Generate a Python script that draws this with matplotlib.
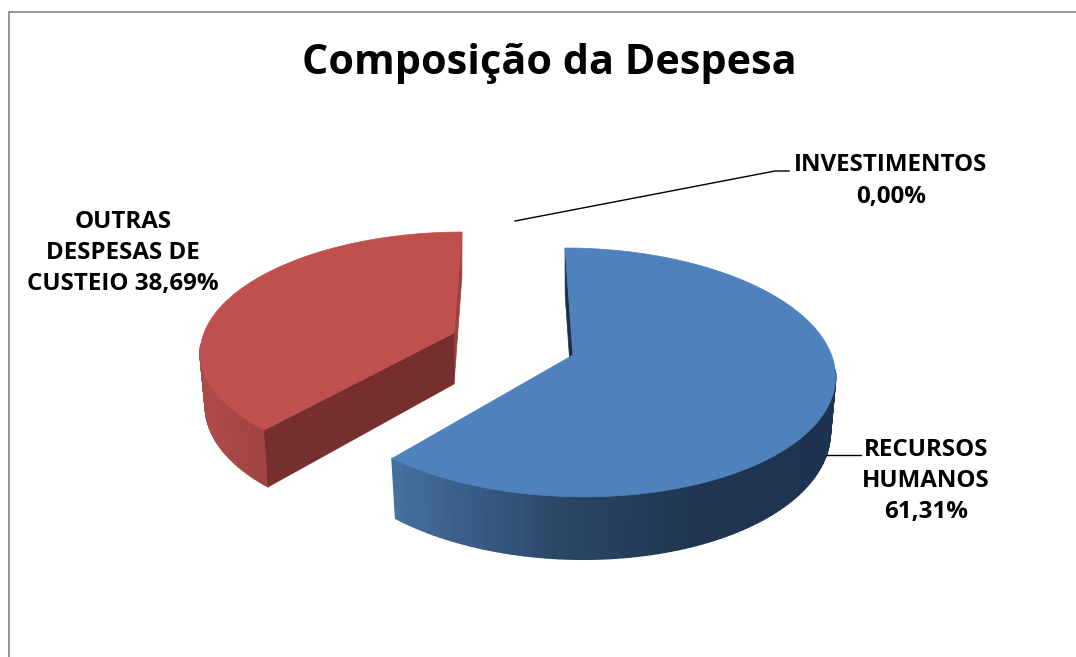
import numpy as np
import matplotlib
matplotlib.use("Agg")
import matplotlib.pyplot as plt
from matplotlib.collections import PolyCollection
from matplotlib.colors import to_rgb


TITLE = "Composição da Despesa"
CATEGORIES = ["RECURSOS\nHUMANOS\n61,31%", "OUTRAS\nDESPESAS DE\nCUSTEIO 38,69%", "INVESTIMENTOS\n0,00%"]
VALUES = [61.31, 38.69, 0.00]

FONT = "Open Sans"

# apex x, apex y, a, b, perspective k, skew, depth
BLUE_VIEW = (573, 355, 258.5, 122, 0.14, -9.1, 53.6)
RED_VIEW = (454, 333, 250, 114.7, 0.136, 9.1, 51)

BLUE_SIDE = ["#44709f", "#2b4767", "#1f3550", "#1e3350"]
BLUE_SIDE_X = [393, 560, 700, 835]
RED_SIDE = ["#ad4b49", "#a04341"]
RED_SIDE_X = [205, 268]


def project(theta, view, radius=1.0, lower=False):
    cx, cy, a, b, k, skew, depth = view
    px = radius * np.sin(np.radians(theta))
    py = radius * np.cos(np.radians(theta))
    w = 1 + k * py
    x = cx + (a * px + skew * py) / w
    y = cy - b * py / w
    if lower:
        x = cx + (x - cx) * 0.98
        y = y + depth / w
    return x, y


def ramp(x, stops_x, stops_c):
    rgb = np.array([to_rgb(c) for c in stops_c])
    return tuple(np.interp(x, stops_x, rgb[:, i]) for i in range(3))


def draw_slice(ax, start, stop, view, top_color, stops_x, stops_c, zorder):
    thetas = np.linspace(start, stop, 160)

    # outer wall, split in strips so the shading can run along x
    # the far part of the wall is hidden by the top face, so skip it
    polys, colors = [], []
    for t0, t1 in zip(thetas[:-1], thetas[1:]):
        if np.cos(np.radians(t0)) > -view[4] + 0.03:
            continue
        a = project(t0, view)
        b = project(t1, view)
        c = project(t1, view, lower=True)
        d = project(t0, view, lower=True)
        polys.append([a, b, c, d])
        colors.append(ramp((a[0] + b[0]) / 2, stops_x, stops_c))
    ax.add_collection(PolyCollection(polys, facecolors=colors, edgecolors=colors,
                                     linewidths=1.2, zorder=zorder))

    # top face
    xs, ys = project(thetas, view)
    apex = project(0, view, radius=0.0)
    ax.fill(np.r_[apex[0], xs], np.r_[apex[1], ys], color=top_color, lw=0.5, zorder=zorder + 1)


def radial_face(ax, theta, view, color, zorder):
    pts = [project(theta, view), project(theta, view, radius=0.0),
           project(theta, view, radius=0.0, lower=True), project(theta, view, lower=True)]
    ax.fill(*zip(*pts), color=color, lw=0.5, zorder=zorder)


def main() -> None:
    fig = plt.figure(figsize=(10.76, 6.57), dpi=100)
    ax = fig.add_axes([0, 0, 1, 1])
    ax.set_xlim(0, 1076)
    ax.set_ylim(657, 0)
    ax.axis("off")

    # chart frame, cut off by the screenshot on the right and at the bottom
    ax.plot([9, 9, 1076], [657, 12, 12], color="#8c8c8c", lw=1.3, zorder=1)

    total = sum(VALUES)
    blue_end = VALUES[0] / total * 360
    red_end = blue_end + VALUES[1] / total * 360

    radial_face(ax, 0, BLUE_VIEW, "#1b3048", 2)
    draw_slice(ax, 0, blue_end, BLUE_VIEW, "#4f81bd", BLUE_SIDE_X, BLUE_SIDE, 3)

    radial_face(ax, red_end, RED_VIEW, "#9b403e", 2)
    draw_slice(ax, blue_end, red_end, RED_VIEW, "#c0504d", RED_SIDE_X, RED_SIDE, 3)
    radial_face(ax, blue_end, RED_VIEW, "#772f2e", 3)

    # leader lines
    ax.plot([826, 861], [455, 455], color="black", lw=1.0, zorder=6)
    ax.plot([515, 775, 789], [221, 171, 171], color="black", lw=1.0, zorder=6)

    ax.text(549, 64, TITLE, ha="center", va="center", fontsize=29.8, fontweight="bold",
            family=FONT, color="black")

    label_style = dict(ha="center", va="center", fontsize=17.4, fontweight="bold",
                       family=FONT, color="black", linespacing=1.4)
    ax.text(926, 481, CATEGORIES[0], **label_style)
    ax.text(123, 253, CATEGORIES[1], **label_style)
    ax.text(891, 181, CATEGORIES[2], **label_style)

    fig.savefig("out.png", dpi=100)


if __name__ == "__main__":
    main()
